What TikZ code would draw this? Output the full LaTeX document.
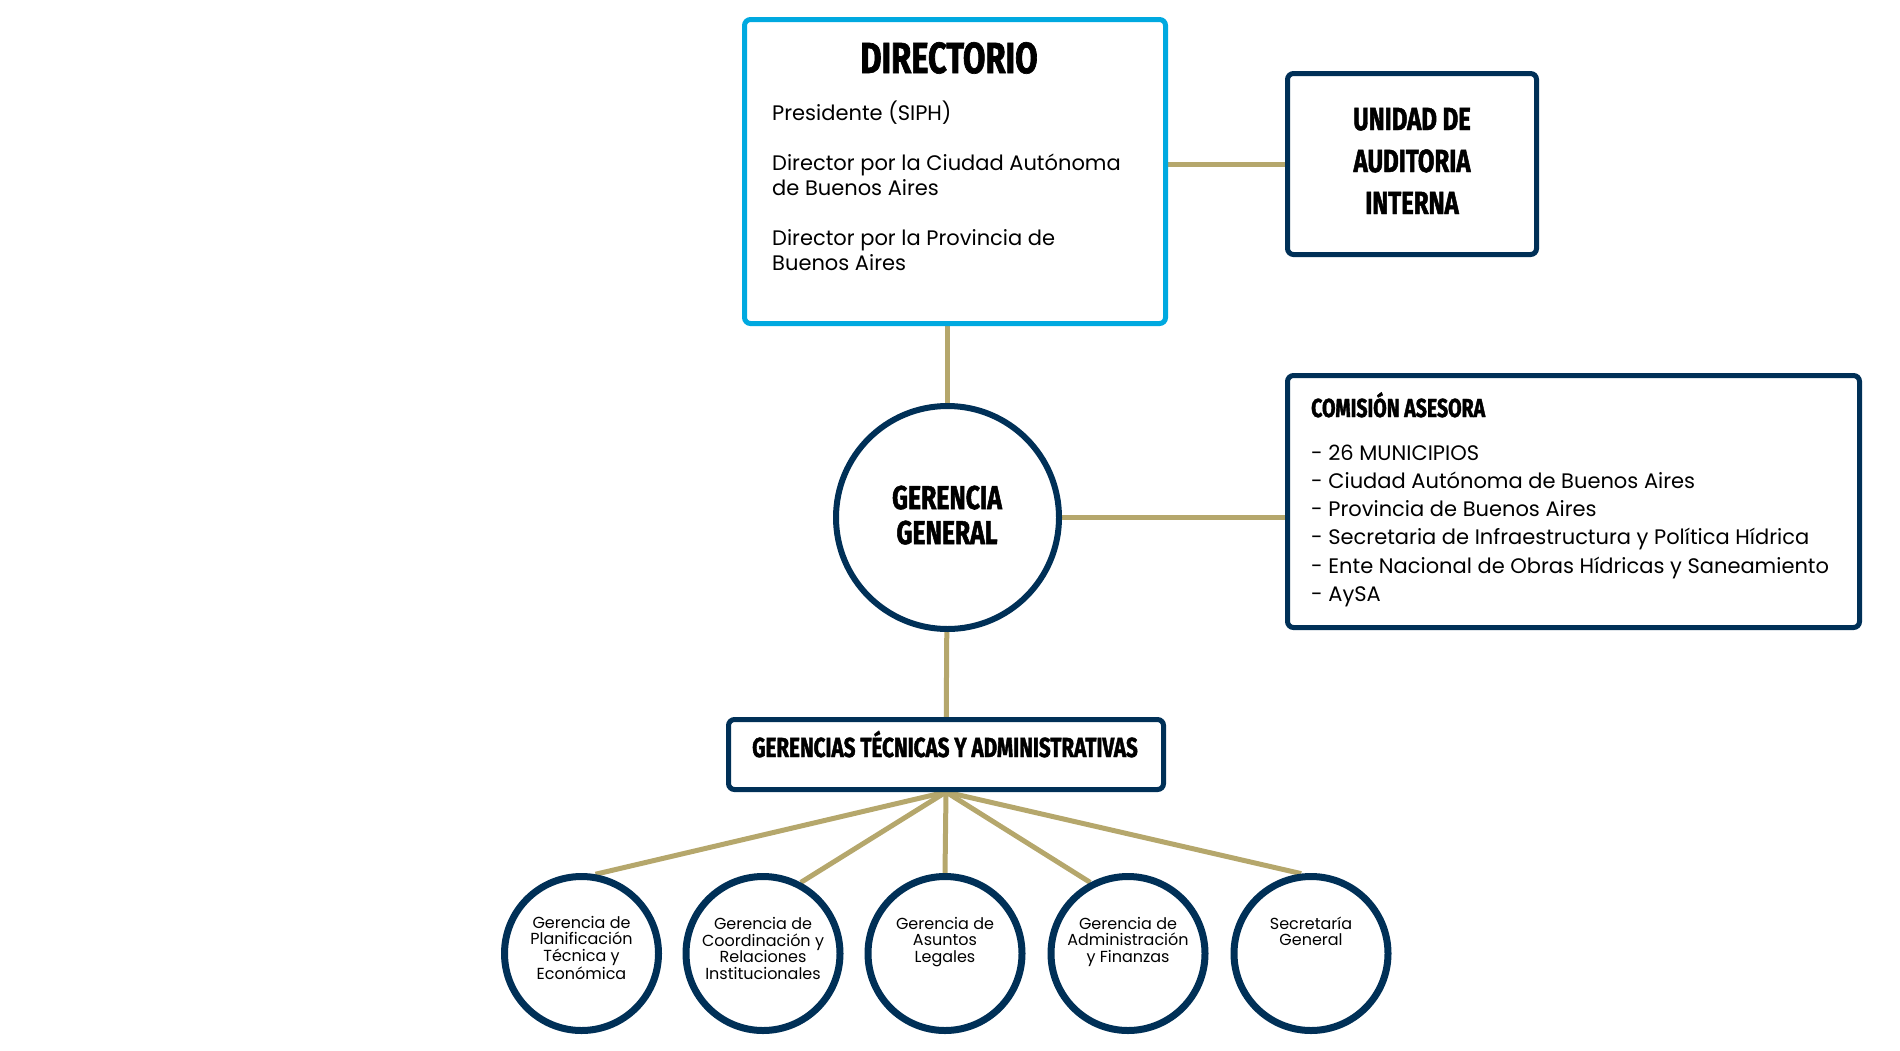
\documentclass[tikz,border=0pt]{standalone}
\usepackage{fontspec}
\setmainfont{Poppins}
\newfontfamily\headfont[FakeStretch=0.75, BoldFeatures={FakeBold=1.5}]{Fira Sans}
\usetikzlibrary{positioning}
\definecolor{navy}{RGB}{0,48,87}
\definecolor{skyblue}{RGB}{0,169,224}
\definecolor{gold}{RGB}{181,167,108}
\pgfdeclarelayer{nodelayer}
\pgfdeclarelayer{edgelayer}
\pgfsetlayers{edgelayer,nodelayer,main}
\tikzset{
    none/.style = {inner sep=0pt},
    board/.style = {draw=skyblue, line width=5pt, rounded corners=6pt, fill=white, inner sep=0pt},
    unit/.style = {draw=navy, line width=5pt, rounded corners=6pt, fill=white, inner sep=0pt},
    office/.style = {circle, draw=navy, line width=6pt, fill=white, inner sep=0pt},
    branch/.style = {circle, draw=navy, line width=7pt, fill=white, inner sep=0pt, minimum size=154pt},
    title/.style = {inner sep=0pt, align=center, font=\headfont\bfseries},
    body/.style = {inner sep=0pt, align=left, font=\fontsize{21}{25}\selectfont},
    small/.style = {inner sep=0pt, align=center, anchor=base, font=\fontsize{16}{16.5}\selectfont},
    link/.style = {draw=gold, line width=5pt}
}

\begin{document}
\begin{tikzpicture}[x=1pt, y=-1pt]
  \useasboundingbox (0, 0) rectangle (1900, 1050);
  \begin{pgfonlayer}{nodelayer}
    \node [style=board, minimum width=421pt, minimum height=304pt] (0) at (955, 171.5) {};
    \node [style=unit, minimum width=249pt, minimum height=181pt] (1) at (1412, 164) {};
    \node [style=unit, minimum width=572pt, minimum height=252pt] (2) at (1573.5, 501.5) {};
    \node [style=office, minimum size=223pt] (3) at (947.5, 517.5) {};
    \node [style=unit, minimum width=435pt, minimum height=70pt] (4) at (946, 754.5) {};
    \node [style=branch] (5) at (581.5, 953.5) {};
    \node [style=branch] (6) at (763, 953.5) {};
    \node [style=branch] (7) at (945, 953.5) {};
    \node [style=branch] (8) at (1128, 953.5) {};
    \node [style=branch] (9) at (1311, 953.5) {};
  \end{pgfonlayer}
  \begin{pgfonlayer}{edgelayer}
    \draw [style=link] (3) to (3 |- 0.south);
    \draw [style=link] (1) to (1 -| 0.east);
    \draw [style=link] (3) to (3 -| 2.west);
    \draw [style=link] (3) to (4);
    \draw [style=link] (4.south) to (5.80);
    \draw [style=link] (4.south) to (6.62);
    \draw [style=link] (4.south) to (7.north);
    \draw [style=link] (4.south) to (8.118);
    \draw [style=link] (4.south) to (9.97);
  \end{pgfonlayer}

  % texts (multi-line nodes sit on their last baseline)
  \node [style=title, anchor=base, font=\headfont\bfseries\fontsize{43.5}{44}\selectfont] (10) at (949, 73) {DIRECTORIO};
  \node [style=body, anchor=base west] (11) at (772, 270) {Presidente (SIPH)\\[25pt]Director por la Ciudad Autónoma\\de Buenos Aires\\[25pt]Director por la Provincia de\\Buenos Aires};
  \node [style=title, anchor=base, font=\headfont\bfseries\fontsize{32}{42}\selectfont] (12) at (1412, 214) {UNIDAD DE\\AUDITORIA\\INTERNA};
  \node [style=title, anchor=base, font=\headfont\bfseries\fontsize{33}{35}\selectfont] (13) at (947, 544) {GERENCIA\\GENERAL};
  \node [style=title, anchor=base west, font=\headfont\bfseries\fontsize{26}{28}\selectfont] (14) at (1311, 417) {COMISIÓN ASESORA};
  \node [style=body, anchor=base west, font=\fontsize{21}{28.3}\selectfont] (15) at (1311, 601.5) {- 26 MUNICIPIOS\\- Ciudad Autónoma de Buenos Aires\\- Provincia de Buenos Aires\\- Secretaria de Infraestructura y Política Hídrica\\- Ente Nacional de Obras Hídricas y Saneamiento\\- AySA};
  \node [style=title, anchor=base, font=\headfont\bfseries\fontsize{27.5}{28}\selectfont] (16) at (945, 757) {GERENCIAS TÉCNICAS Y ADMINISTRATIVAS};
  \node [style=small] (17) at (5 |- 0, 979) {Gerencia de\\Planificación\\Técnica y\\Económica};
  \node [style=small] (18) at (6 |- 0, 979) {Gerencia de\\Coordinación y\\Relaciones\\Institucionales};
  \node [style=small] (19) at (7 |- 0, 962) {Gerencia de\\Asuntos\\Legales};
  \node [style=small] (20) at (8 |- 0, 962) {Gerencia de\\Administración\\y Finanzas};
  \node [style=small] (21) at (9 |- 0, 945.5) {Secretaría\\General};
\end{tikzpicture}
\end{document}
